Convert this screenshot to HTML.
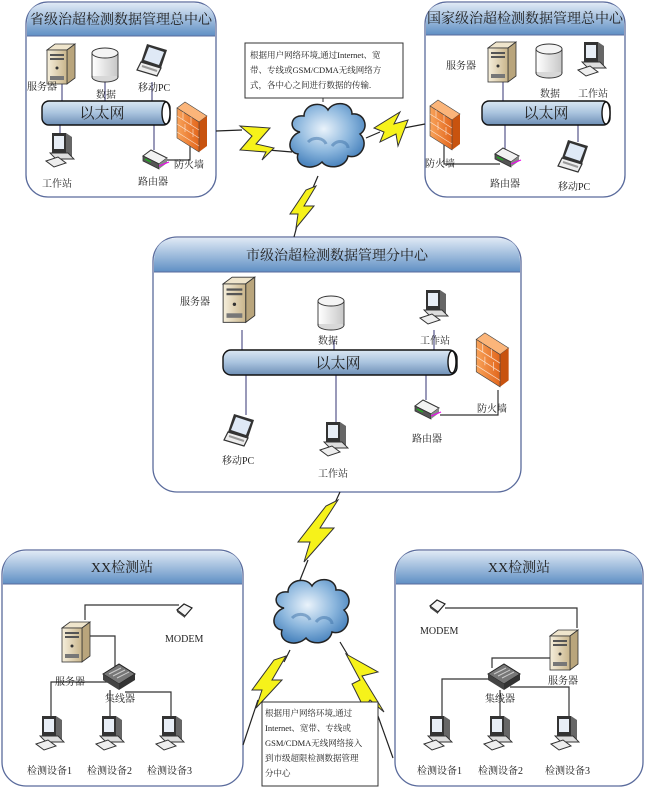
<!DOCTYPE html>
<html><head><meta charset="utf-8"><style>
html,body{margin:0;padding:0;background:#fff;}
svg{display:block;}
text{font-family:"Liberation Serif","Noto Serif CJK SC",serif;fill:#222;}
</style></head><body>
<svg width="650" height="791" viewBox="0 0 650 791" xmlns="http://www.w3.org/2000/svg">
<defs>
<linearGradient id="ghd" x1="0" y1="0" x2="0" y2="1"><stop offset="0" stop-color="#dfe9f5"/><stop offset="1" stop-color="#5f8fc4"/></linearGradient>
<linearGradient id="gpipe" x1="0" y1="0" x2="0" y2="1"><stop offset="0" stop-color="#dbe7f3"/><stop offset=".5" stop-color="#a9c3de"/><stop offset="1" stop-color="#6e8fb6"/></linearGradient>
<linearGradient id="gsrv" x1="0" y1="0" x2="1" y2="0"><stop offset="0" stop-color="#f6efdc"/><stop offset="1" stop-color="#c9b58b"/></linearGradient>
<linearGradient id="gfw" x1="0" y1="0" x2="1" y2="0"><stop offset="0" stop-color="#f9a35a"/><stop offset="1" stop-color="#e2661c"/></linearGradient>
<radialGradient id="gcl" cx=".45" cy=".4" r=".6"><stop offset="0" stop-color="#eaf3fb"/><stop offset=".6" stop-color="#8bb6dd"/><stop offset="1" stop-color="#4d86bf"/></radialGradient>
<linearGradient id="gdb" x1="0" y1="0" x2="1" y2="0"><stop offset="0" stop-color="#fff"/><stop offset="1" stop-color="#c8c8c8"/></linearGradient>
<g id="server"><path d="M0 6 L8 0 L28 0 L20 6 Z" fill="#efe5cc" stroke="#333" stroke-width=".8"/><path d="M20 6 L28 0 L28 34 L20 40 Z" fill="#b9a57c" stroke="#333" stroke-width=".8"/><rect x="0" y="6" width="20" height="34" fill="url(#gsrv)" stroke="#333" stroke-width=".8"/><rect x="3" y="10" width="14" height="2" fill="#555"/><rect x="3" y="14" width="14" height="2" fill="#555"/><circle cx="10" cy="24" r="1.5" fill="#333"/><rect x="3" y="32" width="14" height="4" fill="#777"/></g>
<g id="dbs"><rect x="0" y="5" width="26" height="24" fill="url(#gdb)" stroke="#333" stroke-width=".9"/><ellipse cx="13" cy="29" rx="13" ry="5" fill="#d8d8d8" stroke="#333" stroke-width=".9"/><rect x="0.5" y="5" width="25" height="23" fill="url(#gdb)"/><ellipse cx="13" cy="5" rx="13" ry="5" fill="#f4f4f4" stroke="#333" stroke-width=".9"/></g>
<g id="laptop"><path d="M10 0 L30 6 L24 24 L4 18 Z" fill="#333"/><path d="M12 3 L27 8 L22 21 L7 16 Z" fill="#dfe9f6"/><path d="M4 18 L24 24 L20 32 L0 26 Z" fill="#eee" stroke="#333" stroke-width="1.2"/><path d="M5 22 L20 27" stroke="#999" stroke-width="2"/></g>
<g id="ws"><path d="M6 0 L20 0 L20 20 L6 20 Z" fill="#333"/><rect x="8" y="3" width="10" height="13" fill="#e8eef6"/><path d="M20 0 L26 4 L26 24 L20 20Z" fill="#666"/><path d="M4 20 L22 20 L28 26 L10 26 Z" fill="#ddd" stroke="#333" stroke-width=".9"/><path d="M0 28 L12 24 L20 30 L8 34 Z" fill="#eee" stroke="#333" stroke-width="1"/></g>
<g id="router"><path d="M0 6 L8 0 L24 8 L16 14 Z" fill="#f2f2f2" stroke="#333" stroke-width="1"/><path d="M0 6 L16 14 L16 19 L0 11 Z" fill="#555" stroke="#333" stroke-width=".8"/><path d="M16 14 L24 8 L24 13 L16 19Z" fill="#888"/><path d="M2 9 L8 12" stroke="#2a2" stroke-width="1.5"/><path d="M16 16 L26 12" stroke="#e0e" stroke-width="1.2"/></g>
<g id="fwall"><path d="M0 6 L8 0 L30 14 L22 20 Z" fill="#fbb57a" stroke="#444" stroke-width=".6"/><path d="M22 20 L30 14 L30 44 L22 50 Z" fill="#c8530f"/><path d="M0 6 L22 20 L22 50 L0 36 Z" fill="url(#gfw)" stroke="#444" stroke-width=".6"/><path d="M0 14 L22 28 M0 22 L22 36 M0 30 L22 44 M6 10 L6 18 M14 15 L14 23 M8 22 L8 30 M16 27 L16 35" stroke="#fff" stroke-width=".7" opacity=".7"/></g>
<g id="hub"><path d="M0 10 L16 0 L32 10 L16 20 Z" fill="#777" stroke="#222" stroke-width="1"/><path d="M0 10 L16 20 L16 26 L0 16 Z" fill="#444"/><path d="M16 20 L32 10 L32 16 L16 26Z" fill="#333"/><path d="M6 10 L18 4 M10 12 L22 6 M14 14 L26 8" stroke="#ccc" stroke-width="1"/></g>
<g id="modem"><path d="M0 6 L7 0 L15 4 L8 12 Z" fill="#f5f5f5" stroke="#222" stroke-width="1.2"/><path d="M0 6 L8 12 L8 14 L0 8Z" fill="#444"/></g>
<g id="cloud"><path d="M12 30 C0 28 2 12 16 14 C16 2 34 -2 40 8 C46 -2 64 0 64 12 C76 10 82 26 72 32 C82 42 72 58 60 54 C58 66 40 68 34 60 C24 70 6 64 10 52 C-2 50 0 34 12 30 Z" fill="url(#gcl)" stroke="#222" stroke-width="1.5"/><path d="M20 40 C26 34 36 36 38 42 M44 44 C50 36 60 40 60 46" stroke="#3d72a8" stroke-width="3" fill="none" opacity=".5"/></g>
</defs>

<!-- boxes -->
<g stroke="#5a6b9c" stroke-width="1.3">
<rect x="26" y="2" width="190" height="195" rx="22" fill="#fff"/>
<rect x="425" y="2" width="200" height="195" rx="22" fill="#fff"/>
<rect x="153" y="237" width="368" height="255" rx="24" fill="#fff"/>
<rect x="2" y="550" width="241" height="236" rx="24" fill="#fff"/>
<rect x="395" y="550" width="248" height="236" rx="24" fill="#fff"/>
</g>
<path d="M27 36 L27 24 Q27 3 49 3 L193 3 Q215 3 215 24 L215 36 Z" fill="url(#ghd)"/>
<path d="M426 35 L426 24 Q426 3 448 3 L602 3 Q624 3 624 24 L624 35 Z" fill="url(#ghd)"/>
<path d="M154 272 L154 262 Q154 238 178 238 L496 238 Q520 238 520 262 L520 272 Z" fill="url(#ghd)"/>
<path d="M3 584 L3 575 Q3 551 27 551 L218 551 Q242 551 242 575 L242 584 Z" fill="url(#ghd)"/>
<path d="M396 584 L396 575 Q396 551 420 551 L618 551 Q642 551 642 575 L642 584 Z" fill="url(#ghd)"/>
<g stroke="#5a6b9c" stroke-width="1"><line x1="27" y1="36" x2="215" y2="36"/><line x1="426" y1="35" x2="624" y2="35"/><line x1="154" y1="272" x2="520" y2="272"/><line x1="3" y1="584" x2="242" y2="584"/><line x1="396" y1="584" x2="642" y2="584"/></g>
<g font-size="14">
<text x="121" y="24" text-anchor="middle">省级治超检测数据管理总中心</text>
<text x="525" y="23" text-anchor="middle">国家级治超检测数据管理总中心</text>
<text x="337" y="260" text-anchor="middle">市级治超检测数据管理分中心</text>
<text x="122" y="572" text-anchor="middle">XX检测站</text>
<text x="519" y="572" text-anchor="middle">XX检测站</text>
</g>

<!-- connector lines in nodes -->
<g stroke="#55558a" stroke-width="1.2" fill="none">
<line x1="62" y1="84" x2="62" y2="102"/><line x1="105" y1="82" x2="105" y2="102"/><line x1="152" y1="82" x2="152" y2="102"/><line x1="60" y1="124" x2="60" y2="135"/><line x1="154" y1="124" x2="154" y2="150"/>
<line x1="503" y1="82" x2="503" y2="102"/><line x1="505" y1="124" x2="505" y2="150"/><line x1="578" y1="124" x2="578" y2="142"/>
<line x1="242" y1="330" x2="242" y2="352"/><line x1="334" y1="340" x2="334" y2="352"/><line x1="434" y1="330" x2="434" y2="352"/><line x1="246" y1="373" x2="246" y2="415"/><line x1="336" y1="373" x2="336" y2="422"/><line x1="426" y1="373" x2="426" y2="400"/>
</g>
<g stroke="#333" stroke-width="1.2" fill="none">
<polyline points="190,130 190,160 165,160"/>
<polyline points="444,145 444,164 500,164"/>
<polyline points="440,415 498,415 498,390"/>
<polyline points="85,620 85,605 179,605"/>
<polyline points="77,636 115,636 115,670"/>
<polyline points="51,718 51,682 110,682"/>
<polyline points="125,692 171,692 171,718"/>
<line x1="110" y1="690" x2="110" y2="718"/>
<polyline points="445,608 577,608 577,628"/>
<polyline points="554,658 492,658 492,668"/>
<polyline points="442,718 442,679 495,679"/>
<polyline points="510,687 569,687 569,718"/>
<line x1="500" y1="690" x2="500" y2="718"/>
</g>

<!-- pipes -->
<g stroke="#111" stroke-width="1.4">
<rect x="42" y="101" width="128" height="24" rx="7" fill="url(#gpipe)"/><ellipse cx="166" cy="113" rx="4" ry="11" fill="#fff"/>
<rect x="482" y="101" width="128" height="24" rx="7" fill="url(#gpipe)"/><ellipse cx="606" cy="113" rx="4" ry="11" fill="#fff"/>
<rect x="223" y="350" width="234" height="25" rx="8" fill="url(#gpipe)"/><ellipse cx="452" cy="362" rx="4" ry="11" fill="#fff"/>
</g>
<g font-size="15"><text x="102" y="118" text-anchor="middle">以太网</text><text x="546" y="118" text-anchor="middle">以太网</text><text x="338" y="368" text-anchor="middle">以太网</text></g>

<!-- devices -->
<use href="#server" x="47" y="44"/><use href="#dbs" x="92" y="48"/><use href="#laptop" x="137" y="44"/><use href="#ws" x="46" y="133"/><use href="#router" x="143" y="150"/><use href="#fwall" x="177" y="102"/>
<use href="#server" x="488" y="42"/><use href="#dbs" x="536" y="44"/><use href="#ws" x="578" y="42"/><use href="#fwall" x="430" y="100"/><use href="#router" x="495" y="148"/><use href="#laptop" x="558" y="140"/>
<use href="#server" x="224" y="278" transform="translate(-30 -37) scale(1.13)"/>
<use href="#dbs" x="318" y="296"/><use href="#ws" x="420" y="290"/><use href="#fwall" x="478" y="336" transform="translate(-40 -30) scale(1.08)"/><use href="#router" x="415" y="400"/><use href="#laptop" x="224" y="414"/><use href="#ws" x="320" y="422"/>
<use href="#server" x="62" y="622"/><use href="#modem" x="177" y="604"/><use href="#hub" x="103" y="664"/>
<use href="#ws" x="36" y="716"/><use href="#ws" x="96" y="716"/><use href="#ws" x="156" y="716"/>
<use href="#modem" x="430" y="600"/><use href="#server" x="550" y="630"/><use href="#hub" x="488" y="664"/>
<use href="#ws" x="424" y="716"/><use href="#ws" x="484" y="716"/><use href="#ws" x="551" y="716"/>

<g font-size="10">
<text x="27" y="90">服务器</text><text x="96" y="98">数据</text><text x="138" y="91">移动PC</text><text x="42" y="187">工作站</text><text x="138" y="185">路由器</text><text x="174" y="168">防火墙</text>
<text x="446" y="69">服务器</text><text x="540" y="97">数据</text><text x="578" y="97">工作站</text><text x="425" y="167">防火墙</text><text x="490" y="187">路由器</text><text x="558" y="190">移动PC</text>
<text x="180" y="305">服务器</text><text x="318" y="344">数据</text><text x="420" y="344">工作站</text><text x="477" y="412">防火墙</text><text x="412" y="442">路由器</text><text x="222" y="464">移动PC</text><text x="318" y="477">工作站</text>
<text x="165" y="642">MODEM</text><text x="55" y="685">服务器</text><text x="105" y="702">集线器</text>
<text x="27" y="774">检测设备1</text><text x="87" y="774">检测设备2</text><text x="147" y="774">检测设备3</text>
<text x="420" y="634">MODEM</text><text x="548" y="684">服务器</text><text x="485" y="702">集线器</text>
<text x="417" y="774">检测设备1</text><text x="478" y="774">检测设备2</text><text x="545" y="774">检测设备3</text>
</g>

<!-- clouds -->
<use href="#cloud" x="288" y="102"/>
<use href="#cloud" x="272" y="578"/>

<!-- lightning connectors -->
<g stroke="#222" stroke-width="1.2" fill="none">
<line x1="216" y1="131" x2="242" y2="130"/><line x1="268" y1="150" x2="292" y2="152"/>
<line x1="366" y1="138" x2="380" y2="132"/><line x1="404" y1="128" x2="425" y2="124"/>
<line x1="318" y1="176" x2="312" y2="190"/><line x1="298" y1="222" x2="294" y2="237"/>
<line x1="340" y1="492" x2="334" y2="505"/><line x1="308" y1="560" x2="300" y2="580"/>
<line x1="290" y1="650" x2="284" y2="662"/><line x1="258" y1="700" x2="243" y2="745"/>
<line x1="340" y1="642" x2="352" y2="662"/><line x1="378" y1="716" x2="393" y2="758"/>
</g>
<g fill="#f6f21a" stroke="#333" stroke-width="1">
<path d="M240 126 L270 128 L256 144 L274 148 L262 160 L266 152 L240 150 L252 136 Z"/>
<path d="M374 128 L400 112 L394 124 L408 120 L398 146 L396 134 L380 142 L384 132 Z"/>
<path d="M316 186 L304 206 L314 206 L296 228 L298 214 L290 214 L306 190 Z"/>
<path d="M338 500 L320 528 L334 528 L304 562 L310 542 L298 542 L326 506 Z"/>
<path d="M286 656 L272 680 L282 680 L256 708 L262 690 L252 690 L274 660 Z"/>
<path d="M346 654 L378 672 L362 676 L384 712 L370 700 L364 708 L352 684 L360 680 Z"/>
</g>

<!-- callouts -->
<rect x="245" y="43" width="158" height="55" fill="#fff" stroke="#333" stroke-width="1"/>
<line x1="323" y1="98" x2="323" y2="102" stroke="#333"/>
<g font-size="8.5"><text x="250" y="58">根据用户网络环境,通过Internet、宽</text><text x="250" y="73">带、专线或GSM/CDMA无线网络方</text><text x="250" y="88">式，各中心之间进行数据的传输.</text></g>
<rect x="262" y="702" width="116" height="84" fill="#fff" stroke="#333" stroke-width="1"/>
<g font-size="8.5"><text x="265" y="716">根据用户网络环境,通过</text><text x="265" y="731">Internet、宽带、专线或</text><text x="265" y="746">GSM/CDMA无线网络接入</text><text x="265" y="761">到市级超限检测数据管理</text><text x="265" y="776">分中心</text></g>
</svg>
</body></html>
